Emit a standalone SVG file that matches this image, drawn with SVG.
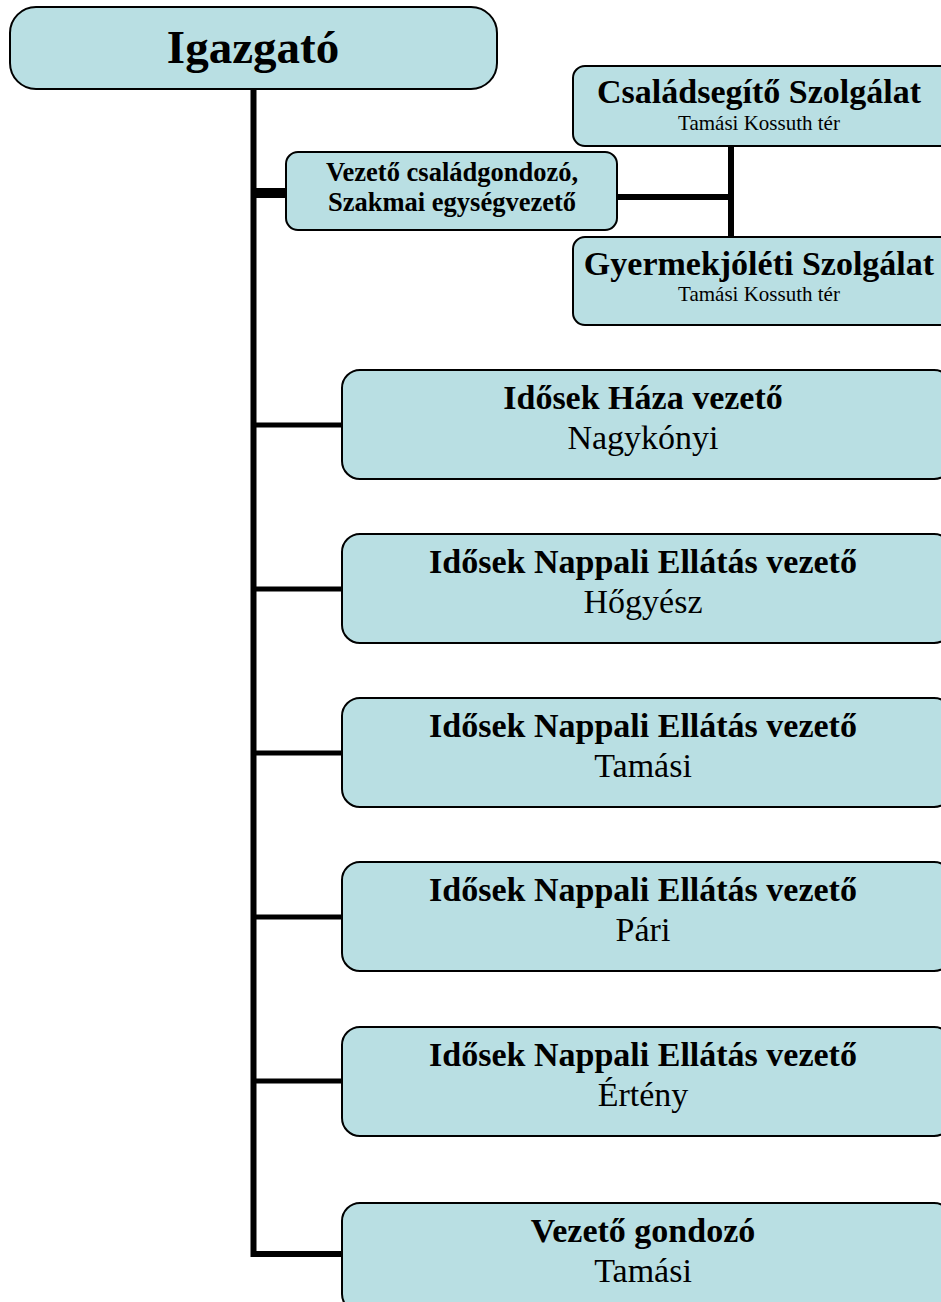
<svg xmlns="http://www.w3.org/2000/svg" width="941" height="1302" viewBox="0 0 941 1302">
<style>
.box{fill:#B9DFE3;stroke:#000;stroke-width:2}
.t{font-family:"Liberation Serif","Times New Roman",serif;text-anchor:middle;fill:#000}
.b{font-weight:bold}
.ln{stroke:#000;fill:none}
</style>
<rect width="941" height="1302" fill="#fff"/>
<g id="connectors">
<path class="ln" stroke-width="6" d="M253.5 89 V1254 H343"/>
<path class="ln" stroke-width="10" d="M253.5 193 H287"/>
<path class="ln" stroke-width="6" d="M617 197 H731"/>
<path class="ln" stroke-width="6" d="M731 146 V238"/>
<path class="ln" stroke-width="5" d="M253.5 425 H343"/>
<path class="ln" stroke-width="5" d="M253.5 589 H343"/>
<path class="ln" stroke-width="5" d="M253.5 753 H343"/>
<path class="ln" stroke-width="5" d="M253.5 917 H343"/>
<path class="ln" stroke-width="5" d="M253.5 1081 H343"/>
</g>
<g id="n-igazgato">
<rect class="box" x="10" y="7" width="487" height="82" rx="26"/>
<text class="t b" x="253" y="63" font-size="47">Igazgató</text>
</g>
<g id="n-csaladsegito">
<rect class="box" x="573" y="66" width="380" height="80" rx="12"/>
<text class="t b" x="759" y="103" font-size="34">Családsegítő Szolgálat</text>
<text class="t" x="759" y="130" font-size="21">Tamási Kossuth tér</text>
</g>
<g id="n-vezeto-csaladgondozo">
<rect class="box" x="286" y="152" width="331" height="78" rx="12"/>
<text class="t b" x="452" y="181" font-size="26.5">Vezető családgondozó,</text>
<text class="t b" x="452" y="211" font-size="26.5">Szakmai egységvezető</text>
</g>
<g id="n-gyermekjoleti">
<rect class="box" x="573" y="237" width="380" height="88" rx="12"/>
<text class="t b" x="759" y="275" font-size="34">Gyermekjóléti Szolgálat</text>
<text class="t" x="759" y="301" font-size="21">Tamási Kossuth tér</text>
</g>
<g id="n-idosek-haza">
<rect class="box" x="342" y="370" width="610" height="109" rx="18"/>
<text class="t b" x="643" y="409" font-size="34">Idősek Háza vezető</text>
<text class="t" x="643" y="449" font-size="34">Nagykónyi</text>
</g>
<g id="n-hogyesz">
<rect class="box" x="342" y="534" width="610" height="109" rx="18"/>
<text class="t b" x="643" y="573" font-size="34">Idősek Nappali Ellátás vezető</text>
<text class="t" x="643" y="613" font-size="34">Hőgyész</text>
</g>
<g id="n-tamasi">
<rect class="box" x="342" y="698" width="610" height="109" rx="18"/>
<text class="t b" x="643" y="737" font-size="34">Idősek Nappali Ellátás vezető</text>
<text class="t" x="643" y="777" font-size="34">Tamási</text>
</g>
<g id="n-pari">
<rect class="box" x="342" y="862" width="610" height="109" rx="18"/>
<text class="t b" x="643" y="901" font-size="34">Idősek Nappali Ellátás vezető</text>
<text class="t" x="643" y="941" font-size="34">Pári</text>
</g>
<g id="n-erteny">
<rect class="box" x="342" y="1027" width="610" height="109" rx="18"/>
<text class="t b" x="643" y="1066" font-size="34">Idősek Nappali Ellátás vezető</text>
<text class="t" x="643" y="1106" font-size="34">Értény</text>
</g>
<g id="n-vezeto-gondozo">
<rect class="box" x="342" y="1203" width="610" height="109" rx="18"/>
<text class="t b" x="643" y="1242" font-size="34">Vezető gondozó</text>
<text class="t" x="643" y="1282" font-size="34">Tamási</text>
</g>
</svg>
